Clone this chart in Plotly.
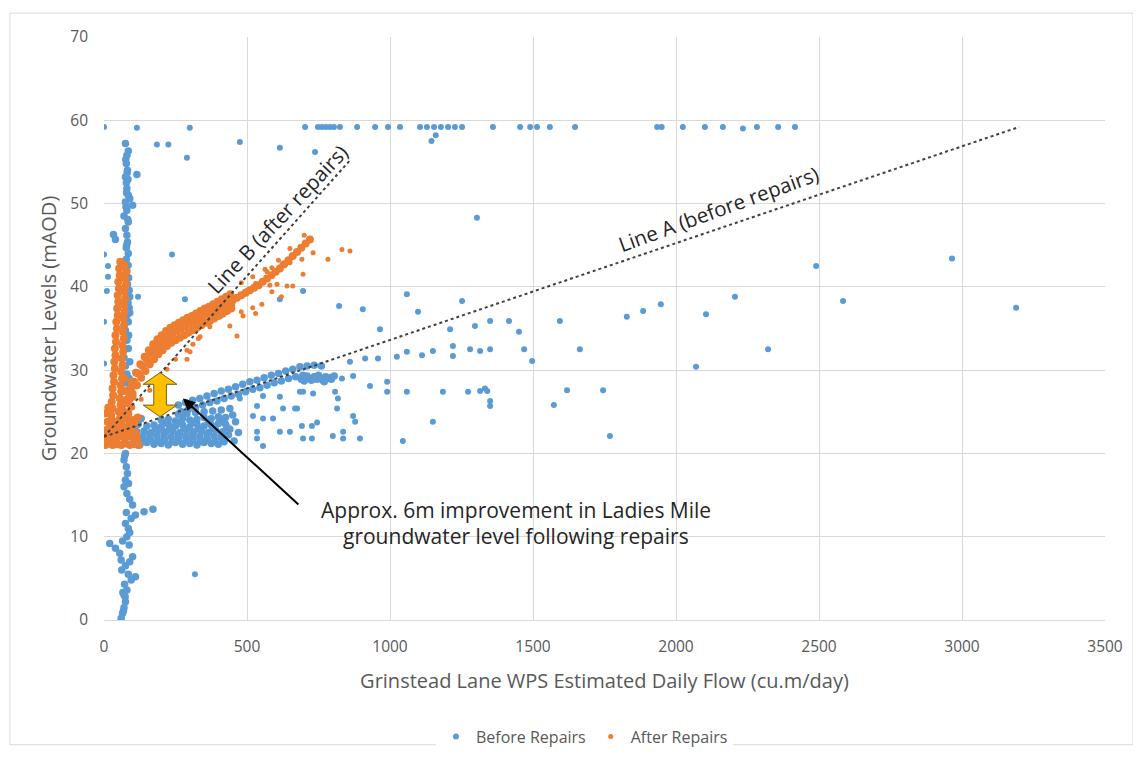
import plotly.graph_objects as go

# ---------------- DATA ----------------
# Before repairs: low-flow column (x ~ 20-170, y 0-20)
before_column_low = [
    (60, 0.2), (65, 0.8), (70, 1.5), (75, 2.2), (70, 3.0), (80, 3.6), (72, 4.3), (95, 4.8),
    (110, 5.2), (85, 5.5), (62, 6.0), (75, 6.5), (90, 7.0), (100, 7.6), (55, 8.0), (40, 8.6),
    (20, 9.2), (65, 9.5), (80, 10.0), (90, 10.5), (85, 11.0), (75, 11.6), (95, 12.2), (110, 12.6),
    (140, 13.0), (171, 13.3), (100, 13.8), (90, 14.5), (80, 15.2), (70, 16.0), (75, 16.8),
    (82, 17.6), (78, 18.4), (70, 19.2), (75, 20.0), (68, 1.1), (74, 2.8), (66, 3.3),
    (78, 12.9), (86, 16.4), (72, 19.7), (88, 9.0), (60, 7.2),
]
# Before repairs: low-flow column (y 25-57)
before_column_high = [
    (75, 57.2), (85, 56.3), (80, 55.8), (78, 54.8), (82, 54.0), (115, 53.5), (75, 53.2), (78, 52.5),
    (80, 51.8), (85, 51.0), (90, 50.6), (75, 50.2), (100, 49.8), (80, 49.2), (70, 48.5), (85, 47.8),
    (75, 47.0), (40, 45.7), (80, 46.2), (82, 45.4), (78, 44.7), (85, 44.0), (33, 46.3), (90, 38.8),
    (88, 37.5), (80, 36.6), (85, 35.8), (75, 34.8), (80, 33.6), (85, 32.6), (70, 31.5), (75, 30.5),
    (80, 29.5), (75, 28.5), (95, 27.5), (90, 26.5), (78, 43.3), (84, 42.6), (80, 41.9), (86, 41.1),
    (82, 40.3), (88, 39.6), (84, 38.1), (90, 36.9), (86, 34.2), (90, 31.0), (88, 29.0),
    (77, 49.6), (83, 48.1), (79, 45.0), (81, 53.7), (84, 52.9), (79, 51.3), (76, 55.3),
]
# Before repairs: isolated readings at low flow
before_column_isolated = [
    (0, 43.9), (14, 42.5), (14, 41.2), (10, 39.5), (0, 35.8), (0, 30.8), (119, 38.8), (0, 59.2),
    (115, 59.1), (300, 59.1), (185, 57.1), (225, 57.1), (290, 55.5), (475, 57.4), (615, 56.7),
    (738, 56.2), (238, 43.9), (283, 38.5), (318, 5.5),
]
# Before repairs: row of readings at ~59 mAOD
before_top_row = [
    (703, 59.2), (748, 59.2), (762, 59.2), (776, 59.2), (790, 59.2), (804, 59.2), (825, 59.2),
    (885, 59.2), (948, 59.2), (993, 59.2), (1035, 59.2), (1105, 59.2), (1129, 59.2), (1154, 59.2),
    (1178, 59.2), (1203, 59.2), (1227, 59.2), (1252, 59.2), (1360, 59.2), (1455, 59.2), (1490, 59.2),
    (1514, 59.2), (1559, 59.2), (1647, 59.2), (1934, 59.2), (1950, 59.2), (2024, 59.2), (2101, 59.2),
    (2164, 59.2), (2234, 59.0), (2283, 59.2), (2357, 59.2), (2416, 59.2), (1160, 58.2), (1145, 57.5),
]
# Before repairs: dense mass at low flow (y 21-25)
before_lower_mass = [
    (100, 21.2), (125, 21.0), (150, 21.3), (175, 21.1), (200, 21.2), (225, 21.0), (250, 21.3),
    (275, 21.1), (300, 21.2), (325, 21.0), (350, 21.3), (375, 21.2), (400, 21.1), (420, 21.4),
    (110, 21.9), (135, 22.0), (160, 21.8), (185, 22.1), (210, 21.9), (235, 22.0), (260, 21.8),
    (285, 22.1), (310, 21.9), (335, 22.0), (360, 21.8), (385, 22.1), (410, 21.9), (435, 22.2),
    (115, 22.6), (140, 22.7), (165, 22.5), (190, 22.8), (215, 22.6), (240, 22.7), (265, 22.5),
    (290, 22.8), (315, 22.6), (340, 22.7), (365, 22.5), (390, 22.8), (415, 22.6), (440, 22.9),
    (150, 23.3), (175, 23.4), (200, 23.2), (225, 23.5), (250, 23.3), (275, 23.4), (300, 23.2),
    (325, 23.5), (350, 23.3), (375, 23.4), (400, 23.6), (425, 23.5),
    (200, 24.0), (225, 24.1), (250, 23.9), (275, 24.2), (300, 24.0), (325, 24.1), (350, 24.3),
    (375, 24.2), (400, 24.4), (425, 24.3), (450, 24.6),
    (260, 24.7), (290, 24.8), (320, 24.9), (350, 25.0), (380, 25.1), (410, 25.2), (440, 25.4),
    (120, 23.5), (130, 24.2), (105, 22.8), (460, 23.8), (470, 22.5), (455, 21.5),
    (112, 21.5), (138, 21.4), (162, 21.6), (188, 21.5), (212, 21.6), (238, 21.4), (262, 21.6),
    (288, 21.5), (312, 21.6), (338, 21.4), (362, 21.6), (388, 21.5),
    (160, 22.3), (210, 22.3), (260, 22.3), (310, 22.3), (360, 22.3), (410, 22.3),
    (180, 23.0), (230, 23.0), (280, 23.0), (330, 23.0), (380, 23.0), (430, 23.1),
    (215, 23.7), (265, 23.7), (315, 23.7), (365, 23.8), (415, 23.9),
]
# Before repairs: band following Line A
before_upper_band = [
    (260, 25.8), (285, 26.1), (310, 26.4), (335, 26.6), (360, 26.9), (385, 27.2), (410, 27.5),
    (435, 27.7), (460, 28.0), (485, 28.3), (510, 28.6), (535, 28.8), (560, 29.1), (585, 29.4),
    (610, 29.6), (635, 29.9), (660, 30.1), (685, 30.4), (710, 30.5), (735, 30.6), (760, 30.5),
    (270, 25.0), (295, 25.3), (320, 25.5), (345, 25.8), (370, 26.1), (395, 26.3), (420, 26.6),
    (445, 26.9), (470, 27.1), (495, 27.4), (520, 27.7), (545, 27.9), (570, 28.2), (595, 28.5),
    (620, 28.7), (645, 29.0), (670, 29.2), (695, 29.4),
    (700, 28.7), (715, 29.0), (725, 28.8), (735, 29.2), (745, 28.9), (755, 29.1), (765, 28.8),
    (775, 29.2), (785, 29.0), (795, 28.9), (710, 29.3), (750, 29.4), (770, 28.6), (690, 28.9),
    (805, 29.3),
]
# Before repairs: scattered readings
before_scatter = [
    (1059, 39.1), (1252, 38.3), (1098, 37.0), (822, 37.7), (905, 37.3), (615, 38.5), (696, 39.5),
    (965, 34.9), (1210, 34.9), (1297, 35.3), (1350, 35.9), (913, 31.4), (958, 31.4), (1024, 31.6),
    (1059, 32.2), (1112, 31.8), (1150, 32.3), (1220, 32.9), (1220, 31.7), (1280, 32.5), (1315, 32.3),
    (1350, 32.5), (860, 31.0), (930, 28.1), (990, 28.6), (990, 27.4), (1059, 27.4), (1185, 27.4),
    (1273, 27.4), (1315, 27.5), (1340, 27.5), (1350, 26.3), (1350, 25.7), (1150, 23.8), (1045, 21.5),
    (878, 23.8), (895, 21.8), (836, 22.6), (836, 21.8), (815, 25.4), (818, 26.6), (808, 27.4),
    (871, 29.3), (832, 29.0), (790, 29.2), (696, 27.4), (731, 27.2), (692, 23.3), (727, 23.3),
    (727, 21.8), (696, 21.8), (745, 23.7), (668, 25.4), (626, 25.4), (615, 22.6), (650, 22.6),
    (591, 24.2), (556, 24.2), (535, 25.7), (556, 26.9), (615, 26.8), (685, 27.4), (556, 20.9),
    (535, 22.6), (535, 21.8), (475, 26.6), (521, 24.5), (675, 25.4), (800, 22.1), (871, 24.5),
    (1416, 35.9), (1451, 34.6), (1594, 35.9), (1828, 36.4), (1885, 37.1), (1947, 37.9),
    (2105, 36.7), (2206, 38.8), (2584, 38.3), (1469, 32.5), (1497, 31.1), (1664, 32.5),
    (2070, 30.4), (2322, 32.5), (1332, 27.8), (1619, 27.6), (1745, 27.6), (1573, 25.8),
    (1769, 22.1), (2490, 42.5), (2965, 43.4), (3189, 37.5), (1304, 48.3),
]

# After repairs: column at very low flow (y 21-43)
after_column = [
    (20, 21.5), (25, 22.3), (22, 23.0), (28, 23.8), (25, 24.6), (30, 25.4), (27, 26.2), (32, 27.0),
    (30, 27.8), (35, 28.6), (33, 29.4), (38, 30.2), (36, 31.0), (40, 31.8), (38, 32.6), (42, 33.4),
    (40, 34.2), (45, 35.0), (43, 35.8), (48, 36.6), (46, 37.4), (50, 38.2), (48, 39.0), (52, 39.8),
    (50, 40.6), (55, 41.4), (53, 42.2), (57, 43.0),
    (45, 21.8), (50, 22.6), (48, 23.4), (55, 24.2), (52, 25.0), (58, 25.8), (55, 26.6), (60, 27.4),
    (58, 28.2), (63, 29.0), (60, 29.8), (65, 30.6), (62, 31.4), (67, 32.2), (64, 33.0), (69, 33.8),
    (66, 34.6), (70, 35.4), (68, 36.2), (72, 37.0), (70, 37.8), (74, 38.6), (72, 39.4), (76, 40.2),
    (74, 41.0), (78, 41.8), (72, 42.6),
]
# After repairs: dense mass at the origin of the curve
after_base = [
    (5, 21.0), (15, 21.2), (30, 21.0), (45, 21.1), (60, 21.0), (75, 21.2), (90, 21.0), (105, 21.1),
    (120, 21.0), (10, 21.9), (25, 22.0), (40, 21.9), (55, 22.1), (70, 21.9), (85, 22.0), (100, 22.1),
    (115, 21.8), (8, 22.8), (20, 23.0), (35, 22.8), (65, 22.9), (80, 23.1), (95, 22.7), (12, 23.8),
    (28, 24.0), (62, 23.7), (78, 24.2), (90, 23.6), (5, 24.8), (15, 25.5), (0, 22.3), (0, 21.5),
    (70, 25.0), (85, 24.8), (95, 25.6), (80, 26.5), (100, 26.8), (90, 27.8), (110, 28.2),
    (75, 22.4), (110, 22.5), (105, 23.6), (118, 24.3), (100, 24.0), (65, 27.6), (70, 29.0),
]
# After repairs: main curved band
after_band = [
    (60, 24.6), (75, 26.2), (90, 27.5), (105, 28.6), (120, 29.6), (135, 30.5), (150, 31.3),
    (165, 32.0), (180, 32.6), (195, 33.1), (210, 33.6), (225, 34.0), (240, 34.4), (255, 34.7),
    (270, 35.0), (285, 35.3), (300, 35.6), (315, 35.8), (330, 36.1), (345, 36.4), (360, 36.7),
    (375, 36.9), (390, 37.2), (405, 37.5), (420, 37.8), (435, 38.1), (450, 38.4), (465, 38.7),
    (480, 39.0), (495, 39.3), (510, 39.6), (525, 39.9), (540, 40.2), (555, 40.6), (570, 41.0),
    (585, 41.4), (600, 41.8), (615, 42.2), (630, 42.7), (645, 43.2), (660, 43.7), (675, 44.2),
    (690, 44.7), (705, 45.2), (720, 45.7),
    (68, 25.9), (82, 27.4), (97, 28.6), (112, 29.7), (127, 30.7), (142, 31.6), (157, 32.4),
    (172, 33.1), (187, 33.7), (202, 34.2), (217, 34.7), (232, 35.1), (247, 35.4), (262, 35.7),
    (277, 36.0), (292, 36.3), (307, 36.5), (322, 36.8), (337, 37.1), (352, 37.4), (367, 37.6),
    (382, 37.9), (397, 38.2), (412, 38.5), (427, 38.8), (442, 39.1),
    (55, 23.3), (70, 24.8), (85, 26.1), (100, 27.2), (115, 28.2), (130, 29.1), (145, 29.9),
    (160, 30.7), (175, 31.3), (190, 31.9), (205, 32.4), (220, 32.9), (235, 33.3), (250, 33.6),
    (265, 33.9), (280, 34.2), (295, 34.5), (310, 34.8), (325, 35.1), (340, 35.4), (355, 35.7),
    (370, 35.9), (385, 36.2), (400, 36.5), (415, 36.8), (430, 37.1), (445, 37.4),
]
# After repairs: sparser readings along Line B and the thin upper branches
after_sparse = [
    (100, 25.5), (130, 26.5), (160, 27.6), (190, 28.8), (220, 30.1), (250, 31.3), (290, 32.4),
    (330, 33.8), (370, 35.2), (410, 36.5), (450, 37.8), (490, 39.1), (530, 40.4), (570, 41.8),
    (610, 43.2), (650, 44.6), (700, 46.2), (301, 32.2), (311, 33.1), (336, 34.0), (465, 34.1),
    (440, 35.3), (486, 36.5), (530, 36.8), (290, 31.3),
    (480, 40.5), (520, 41.2), (563, 42.1), (587, 42.3), (622, 42.7), (650, 42.9), (692, 43.3),
    (731, 44.1), (783, 43.3), (832, 44.5), (860, 44.3),
    (500, 39.6), (545, 40.1), (580, 40.2), (605, 40.3), (640, 40.1), (660, 40.1), (696, 41.5),
    (480, 37.0), (520, 37.5), (552, 37.9), (587, 39.4), (620, 38.8),
]

# Trend lines (end points)
line_a_x = [0, 3200]
line_a_y = [22.0, 59.2]
line_b_x = [0, 860]
line_b_y = [22.0, 55.2]

x_ticks = [0, 500, 1000, 1500, 2000, 2500, 3000, 3500]
y_ticks = [0, 10, 20, 30, 40, 50, 60, 70]

# ---------------- FIGURE ----------------
before_sparse = before_column_isolated + before_top_row + before_scatter
before_dense = before_column_low + before_column_high + before_lower_mass + before_upper_band
after_dense = after_column + after_base + after_band

FONT = "'Open Sans', Lato, sans-serif"
BLUE = "#5B9BD5"
ORANGE = "#ED7D31"
GRID = "#D9D9D9"
TXT = "#595959"
DARK = "#262626"


def xs(pts):
    return [p[0] for p in pts]


def ys(pts):
    return [p[1] for p in pts]


fig = go.Figure()
fig.add_trace(go.Scatter(
    x=xs(before_sparse), y=ys(before_sparse), mode="markers", name="Before Repairs",
    legendgroup="before", marker=dict(color=BLUE, size=6, line=dict(width=0)),
))
fig.add_trace(go.Scatter(
    x=xs(before_dense), y=ys(before_dense), mode="markers", name="Before Repairs",
    legendgroup="before", showlegend=False,
    marker=dict(color=BLUE, size=7.5, line=dict(width=0)),
))
fig.add_trace(go.Scatter(
    x=xs(after_sparse), y=ys(after_sparse), mode="markers", name="After Repairs",
    legendgroup="after", marker=dict(color=ORANGE, size=5, line=dict(width=0)),
))
fig.add_trace(go.Scatter(
    x=xs(after_dense), y=ys(after_dense), mode="markers", name="After Repairs",
    legendgroup="after", showlegend=False,
    marker=dict(color=ORANGE, size=8, line=dict(width=0)),
))
fig.add_trace(go.Scatter(
    x=line_a_x, y=line_a_y, mode="lines", showlegend=False, hoverinfo="skip",
    line=dict(color="#404040", width=2, dash="dot"),
))
fig.add_trace(go.Scatter(
    x=line_b_x, y=line_b_y, mode="lines", showlegend=False, hoverinfo="skip",
    line=dict(color="#404040", width=2, dash="dot"),
))

# yellow double-headed arrow (6 m improvement)
fig.add_shape(
    type="path", xref="x", yref="y",
    path="M196,29.7 L255,28.3 L218,28.3 L218,25.8 L255,25.8 L196,24.4 "
         "L137,25.8 L174,25.8 L174,28.3 L137,28.3 Z",
    fillcolor="#FFC000", line=dict(color="#7F6000", width=1),
)
# chart-area border
fig.add_shape(
    type="rect", xref="paper", yref="paper",
    x0=-0.094, x1=1.028, y0=-0.214, y1=1.041,
    line=dict(color="#D9D9D9", width=1), fillcolor="rgba(0,0,0,0)",
)

fig.add_annotation(
    x=276, y=26.6, ax=685, ay=13.7, xref="x", yref="y", axref="x", ayref="y",
    text="", showarrow=True, arrowhead=2, arrowsize=1.2, arrowwidth=2, arrowcolor="#000000",
)
fig.add_annotation(
    x=1440, y=13.2, xref="x", yref="y", showarrow=False,
    text="Approx. 6m improvement in Ladies Mile",
    font=dict(family=FONT, size=21, color=DARK),
)
fig.add_annotation(
    x=1440, y=10.1, xref="x", yref="y", showarrow=False,
    text="groundwater level following repairs",
    font=dict(family=FONT, size=21, color=DARK),
)
fig.add_annotation(
    x=2147, y=49.3, xref="x", yref="y", showarrow=False, textangle=-20,
    text="Line A (before repairs)", font=dict(family=FONT, size=20.5, color=DARK),
)
fig.add_annotation(
    x=605, y=48.2, xref="x", yref="y", showarrow=False, textangle=-47,
    text="Line B (after repairs)", font=dict(family=FONT, size=20.5, color=DARK),
)

# the page body adds an 8 px offset, so the figure is 8 px smaller and margins shifted
fig.update_layout(
    width=1133, height=758,
    margin=dict(l=96, r=36, t=29, b=136),
    paper_bgcolor="white", plot_bgcolor="white",
    font=dict(family=FONT, color=TXT, size=14),
    showlegend=True,
    legend=dict(orientation="h", x=0.48, xanchor="center", y=-0.2, yanchor="middle",
                font=dict(size=16, color=TXT), itemsizing="trace"),
    xaxis=dict(
        range=[0, 3500], tickvals=x_ticks, showgrid=True, gridcolor=GRID, gridwidth=1,
        zeroline=False, showline=True, linecolor=GRID, ticks="",
        tickfont=dict(size=15.5, color=TXT), ticklabelstandoff=12,
        title=dict(text="Grinstead Lane WPS Estimated Daily Flow (cu.m/day)",
                   font=dict(size=20, color=TXT), standoff=18),
    ),
    yaxis=dict(
        range=[0, 70], tickvals=y_ticks, showgrid=True, gridcolor=GRID, gridwidth=1,
        zeroline=False, showline=False, ticks="",
        tickfont=dict(size=15.5, color=TXT), ticklabelstandoff=15,
        title=dict(text="Groundwater Levels (mAOD)", font=dict(size=20, color=TXT), standoff=8),
    ),
)

fig.write_html("out.html")
